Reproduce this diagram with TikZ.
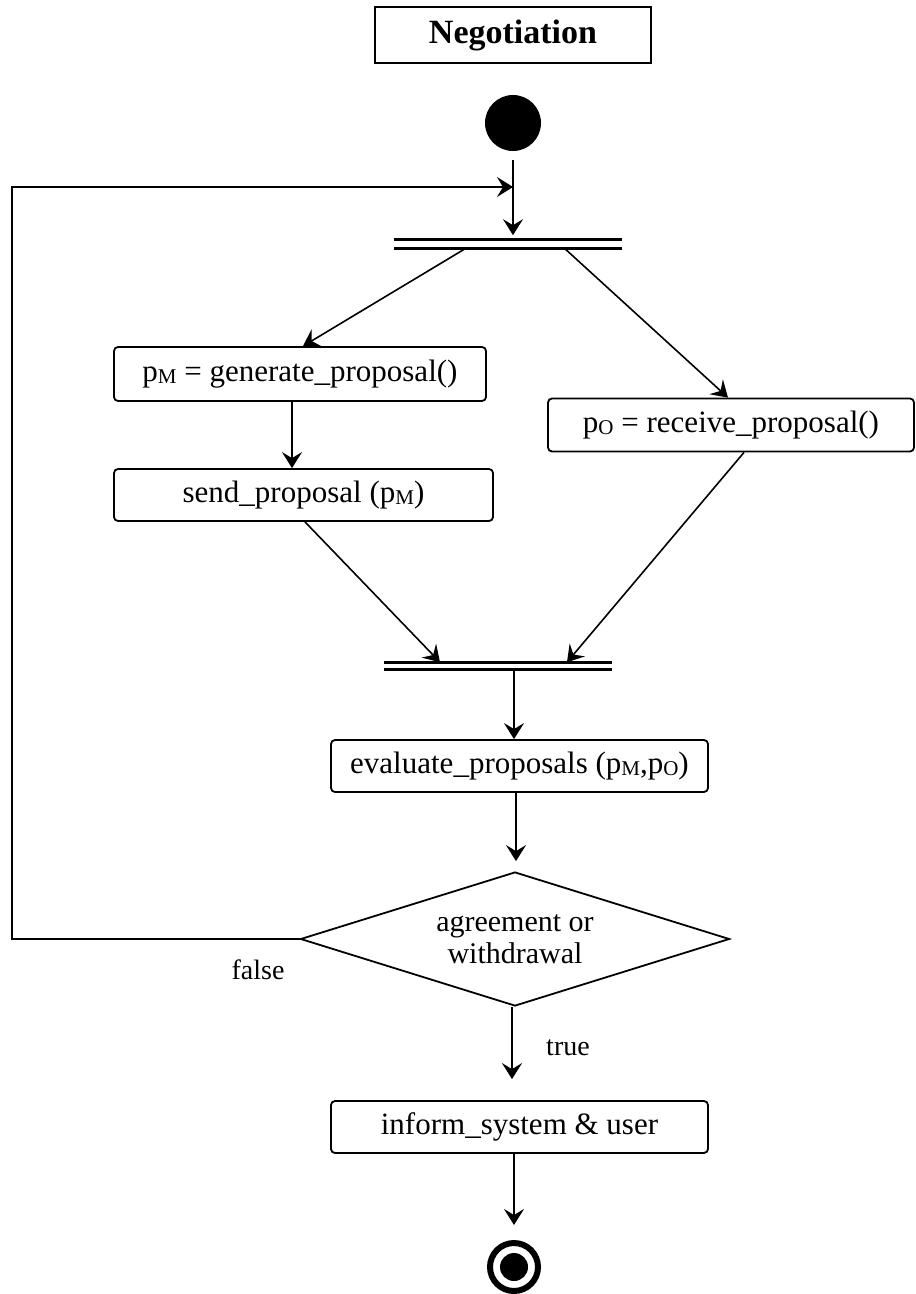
\documentclass[tikz,border=0pt]{standalone}
\usepackage{fontspec}
\setmainfont{Liberation Serif}
\usetikzlibrary{arrows.meta,shapes.geometric}
\newcommand\lsub[1]{{\fontsize{21}{21}\selectfont\raisebox{-2.5pt}{#1}}}
\begin{document}
\begin{tikzpicture}[x=1pt,y=-1pt,
  line width=1.6pt,
  act/.style={draw, rounded corners=4pt, inner sep=0pt, line width=1.8pt,
    font=\fontsize{31}{36}\selectfont},
  arr/.style={-{Stealth[length=16pt,width=20pt,inset=6pt]}, line width=1.6pt},
  barnode/.style={inner sep=0pt, minimum height=8pt},
  lbl/.style={font=\fontsize{28}{32}\selectfont, inner sep=0pt}
]
\useasboundingbox (0,0) rectangle (916,1294);

% title
\node[draw, line width=2pt, minimum width=276pt, minimum height=56pt, inner sep=0pt,
  font=\fontsize{34}{40}\selectfont\bfseries] (title) at (513,35) {Negotiation};

% start
\node[circle, fill=black, minimum size=56pt, inner sep=0pt] (start) at (513,123) {};

% fork bar
\node[barnode, minimum width=227pt] (fork) at (508,244) {};
\draw[line width=3pt] (fork.north west) -- (fork.north east);
\draw[line width=3pt] (fork.south west) -- (fork.south east);

% activities
\node[act, minimum width=372pt, minimum height=54pt] (gen) at (300,374)
  {p\lsub{M} = generate\_proposal()};
\node[act, minimum width=379pt, minimum height=52pt] (send) at (303.5,495)
  {send\_proposal (p\lsub{M})};
\node[act, minimum width=366pt, minimum height=53pt] (recv) at (731,425)
  {p\lsub{O} = receive\_proposal()};

% join bar
\node[barnode, minimum width=226pt, minimum height=6pt] (join) at (498,666) {};
\draw[line width=3pt] (join.north west) -- (join.north east);
\draw[line width=3pt] (join.south west) -- (join.south east);

\node[act, minimum width=377pt, minimum height=52pt] (eval) at (519.5,766)
  {evaluate\_proposals (p\lsub{M},p\lsub{O})};

% decision
\node[diamond, draw, line width=1.8pt, inner sep=0pt, aspect=3.2,
  minimum width=429pt, minimum height=134pt, align=center,
  font=\fontsize{30}{32}\selectfont] (dia) at (515,939)
  {agreement or\\withdrawal};

\node[act, minimum width=377pt, minimum height=52pt] (inform) at (519.5,1127)
  {inform\_system \& user};

% end
\node[circle, draw=black, line width=6pt, minimum size=48pt, inner sep=0pt] (end) at (514,1267) {};
\node[circle, fill=black, minimum size=28pt, inner sep=0pt] (endin) at (end.center) {};

% loop coordinates
\coordinate (loopx) at (12,0);
\coordinate (merge) at (513,187);

% connectors
\draw[arr, shorten <=8pt, shorten >=4pt] (start.south) -- (start.south |- fork.north);
\draw[arr] (dia.west) -- (dia.west -| loopx) |- (merge);
\draw[arr] ([xshift=-43pt]fork.south) -- ([xshift=3pt]gen.north);
\draw[arr] ([xshift=57pt]fork.south) -- ([xshift=-3pt]recv.north);
\draw[arr] ([xshift=-8pt]gen.south) -- ([xshift=-11.5pt]send.north);
\draw[arr] ([xshift=1.5pt]send.south) -- ([xshift=-58pt]join.north);
\draw[arr] ([xshift=13pt]recv.south) -- ([xshift=69pt]join.north);
\draw[arr] ([xshift=16pt]join.south) -- ([xshift=-5.5pt]eval.north);
\draw[arr, shorten >=10pt] ([xshift=-3.5pt]eval.south) -- ([xshift=1pt]dia.north);
\draw[arr, shorten >=21pt] ([xshift=-3pt]dia.south) -- ([xshift=-7.5pt]inform.north);
\draw[arr, shorten >=15pt] ([xshift=-5.5pt]inform.south) -- (end.north);

% labels
\node[lbl] (false) at (258,970) {false};
\node[lbl] (true) at (568,1048) {true};
\end{tikzpicture}
\end{document}
